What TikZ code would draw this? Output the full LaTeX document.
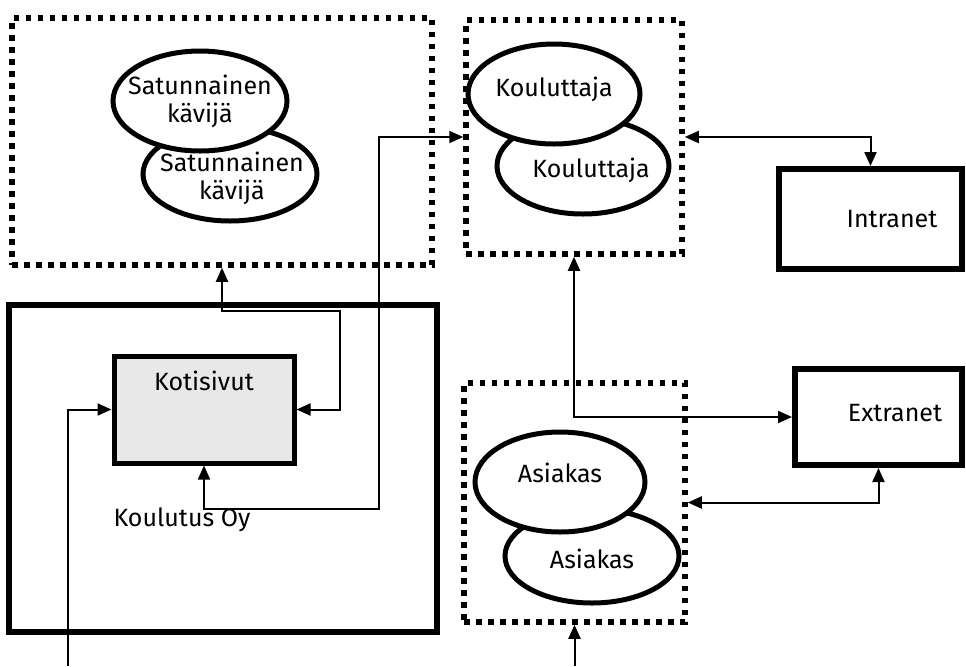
\documentclass[tikz,border=0pt]{standalone}
\usepackage{fontspec}
\setmainfont{Fira Sans}
\usetikzlibrary{shapes.geometric,arrows.meta}
\definecolor{kotigray}{HTML}{E8E8E8}
\tikzset{
  groupbox/.style={draw, line width=2.75pt, dash pattern=on 2.75pt off 3.25pt, inner sep=0pt},
  actor/.style={ellipse, draw, line width=2.5pt, fill=white, inner sep=0pt},
  sitebox/.style={draw, line width=3pt, inner sep=0pt},
  link/.style={line width=1pt}
}
\begin{document}
\begin{tikzpicture}[x=0.5pt,y=-0.5pt,>={Triangle[length=7pt,width=6pt]},
    font=\fontsize{12.5}{14}\selectfont]
  \useasboundingbox (0,0) rectangle (966,666);
  % groups of users
  \node[groupbox, minimum width=210pt, minimum height=123.5pt] (visitors) at (222,141.5) {};
  \node[groupbox, minimum width=108pt, minimum height=117pt] (trainers) at (574,137) {};
  \node[groupbox, minimum width=110.5pt, minimum height=119.5pt] (clients) at (574.5,502.5) {};
  \node[actor, minimum width=87pt, minimum height=47pt,
    label={[align=center,xshift=1pt,yshift=-2pt]center:Satunnainen\\kävijä}] (visitor2) at (230,174) {};
  \node[actor, minimum width=87pt, minimum height=50pt,
    label={[align=center]center:Satunnainen\\kävijä}] (visitor1) at (200,101) {};
  \node[actor, minimum width=86pt, minimum height=48pt,
    label={[xshift=4pt,yshift=-2pt]center:Kouluttaja}] (trainer2) at (583,166) {};
  \node[actor, minimum width=86pt, minimum height=50pt,
    label={[yshift=2.5pt]center:Kouluttaja}] (trainer1) at (554,94) {};
  \node[actor, minimum width=87pt, minimum height=47pt,
    label={[yshift=-1.5pt]center:Asiakas}] (client2) at (592,556) {};
  \node[actor, minimum width=85pt, minimum height=50pt,
    label={[yshift=4.5pt]center:Asiakas}] (client1) at (560,482) {};
  % company and its sites
  \node[sitebox, minimum width=214pt, minimum height=163.5pt] (company) at (223,468.5) {};
  \node[anchor=center] (companyname) at (182,520) {Koulutus Oy};
  \node[sitebox, line width=2.5pt, fill=kotigray, minimum width=90pt, minimum height=53.5pt,
    label={[yshift=-13.5pt,anchor=center]north:Kotisivut}] (homepage) at (204,409.5) {};
  \node[sitebox, minimum width=91.5pt, minimum height=50pt,
    label={[xshift=10.75pt]center:Intranet}] (intranet) at (870.5,219) {};
  \node[sitebox, minimum width=83.5pt, minimum height=48pt,
    label={[xshift=8.25pt,yshift=2pt]center:Extranet}] (extranet) at (878.5,417) {};
  % connectors
  \coordinate (bendA) at (379,509);
  \coordinate (bendB) at (340,311);
  \coordinate (entryA) at (68,666);
  \coordinate (entryB) at (574.5,666);
  \draw[link,<->] (trainers.east) -| (intranet.north);
  \draw[link,<->] (homepage.south) |- (bendA) |- (trainers.west);
  \draw[link,<->] (homepage.east) -| (bendB) -| (visitors.south);
  \draw[link,->] (entryA) |- (homepage.west);
  \draw[link,<->] (trainers.south) |- (extranet.west);
  \draw[link,<->] (clients.east) -| (extranet.south);
  \draw[link,->] (entryB) -- (clients.south);
\end{tikzpicture}
\end{document}
